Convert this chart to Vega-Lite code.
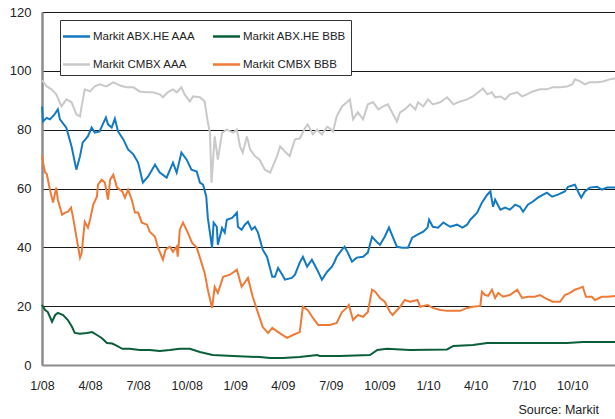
{
  "$schema": "https://vega.github.io/schema/vega-lite/v6.json",
  "width": 573,
  "height": 353,
  "autosize": "none",
  "padding": {"left": 42, "top": 12, "right": 0, "bottom": 54},
  "background": "white",
  "config": {
    "font": "Liberation Sans",
    "view": {"stroke": null},
    "axis": {"labelFont": "Liberation Sans", "labelColor": "#222222", "ticks": false}
  },
  "title": {"text": "Source: Markit", "orient": "bottom", "anchor": "end", "fontSize": 12.5, "fontWeight": "normal", "font": "Liberation Sans", "color": "#222222", "offset": 12, "dx": -20},
  "data": {"values": [
    {"s":"Markit ABX.HE AAA","d":"2008-01-01","v":87.9},
    {"s":"Markit ABX.HE AAA","d":"2008-01-03","v":82.8},
    {"s":"Markit ABX.HE AAA","d":"2008-01-10","v":84},
    {"s":"Markit ABX.HE AAA","d":"2008-01-16","v":83.5},
    {"s":"Markit ABX.HE AAA","d":"2008-01-24","v":85},
    {"s":"Markit ABX.HE AAA","d":"2008-01-31","v":86.9},
    {"s":"Markit ABX.HE AAA","d":"2008-02-04","v":83.5},
    {"s":"Markit ABX.HE AAA","d":"2008-02-16","v":80.7},
    {"s":"Markit ABX.HE AAA","d":"2008-02-26","v":74.3},
    {"s":"Markit ABX.HE AAA","d":"2008-03-06","v":66.4},
    {"s":"Markit ABX.HE AAA","d":"2008-03-13","v":71},
    {"s":"Markit ABX.HE AAA","d":"2008-03-18","v":75.6},
    {"s":"Markit ABX.HE AAA","d":"2008-03-28","v":77.8},
    {"s":"Markit ABX.HE AAA","d":"2008-04-04","v":80.7},
    {"s":"Markit ABX.HE AAA","d":"2008-04-10","v":79},
    {"s":"Markit ABX.HE AAA","d":"2008-04-19","v":79.4},
    {"s":"Markit ABX.HE AAA","d":"2008-04-25","v":81.8},
    {"s":"Markit ABX.HE AAA","d":"2008-05-01","v":84.1},
    {"s":"Markit ABX.HE AAA","d":"2008-05-05","v":81.8},
    {"s":"Markit ABX.HE AAA","d":"2008-05-12","v":80.7},
    {"s":"Markit ABX.HE AAA","d":"2008-05-18","v":83.7},
    {"s":"Markit ABX.HE AAA","d":"2008-05-24","v":79.4},
    {"s":"Markit ABX.HE AAA","d":"2008-06-03","v":76.7},
    {"s":"Markit ABX.HE AAA","d":"2008-06-12","v":73.3},
    {"s":"Markit ABX.HE AAA","d":"2008-06-22","v":71.6},
    {"s":"Markit ABX.HE AAA","d":"2008-07-01","v":68.8},
    {"s":"Markit ABX.HE AAA","d":"2008-07-10","v":62},
    {"s":"Markit ABX.HE AAA","d":"2008-07-20","v":64.1},
    {"s":"Markit ABX.HE AAA","d":"2008-08-02","v":68.1},
    {"s":"Markit ABX.HE AAA","d":"2008-08-11","v":65.4},
    {"s":"Markit ABX.HE AAA","d":"2008-08-24","v":63.7},
    {"s":"Markit ABX.HE AAA","d":"2008-09-05","v":68.8},
    {"s":"Markit ABX.HE AAA","d":"2008-09-12","v":65.4},
    {"s":"Markit ABX.HE AAA","d":"2008-09-21","v":72.2},
    {"s":"Markit ABX.HE AAA","d":"2008-10-01","v":69.8},
    {"s":"Markit ABX.HE AAA","d":"2008-10-10","v":66.4},
    {"s":"Markit ABX.HE AAA","d":"2008-10-20","v":65.8},
    {"s":"Markit ABX.HE AAA","d":"2008-10-26","v":62},
    {"s":"Markit ABX.HE AAA","d":"2008-11-01","v":61.3},
    {"s":"Markit ABX.HE AAA","d":"2008-11-07","v":57.3},
    {"s":"Markit ABX.HE AAA","d":"2008-11-10","v":50},
    {"s":"Markit ABX.HE AAA","d":"2008-11-18","v":39.9},
    {"s":"Markit ABX.HE AAA","d":"2008-11-21","v":48.4},
    {"s":"Markit ABX.HE AAA","d":"2008-11-27","v":47},
    {"s":"Markit ABX.HE AAA","d":"2008-11-29","v":40.9},
    {"s":"Markit ABX.HE AAA","d":"2008-12-07","v":46.6},
    {"s":"Markit ABX.HE AAA","d":"2008-12-12","v":45},
    {"s":"Markit ABX.HE AAA","d":"2008-12-16","v":49.4},
    {"s":"Markit ABX.HE AAA","d":"2008-12-26","v":50},
    {"s":"Markit ABX.HE AAA","d":"2009-01-04","v":51.8},
    {"s":"Markit ABX.HE AAA","d":"2009-01-06","v":47},
    {"s":"Markit ABX.HE AAA","d":"2009-01-13","v":46},
    {"s":"Markit ABX.HE AAA","d":"2009-01-19","v":47.7},
    {"s":"Markit ABX.HE AAA","d":"2009-01-25","v":48.7},
    {"s":"Markit ABX.HE AAA","d":"2009-02-01","v":46},
    {"s":"Markit ABX.HE AAA","d":"2009-02-07","v":47},
    {"s":"Markit ABX.HE AAA","d":"2009-02-13","v":45},
    {"s":"Markit ABX.HE AAA","d":"2009-02-22","v":39.2},
    {"s":"Markit ABX.HE AAA","d":"2009-03-02","v":36.8},
    {"s":"Markit ABX.HE AAA","d":"2009-03-12","v":30},
    {"s":"Markit ABX.HE AAA","d":"2009-03-17","v":30},
    {"s":"Markit ABX.HE AAA","d":"2009-03-23","v":33},
    {"s":"Markit ABX.HE AAA","d":"2009-03-31","v":30.7},
    {"s":"Markit ABX.HE AAA","d":"2009-04-05","v":29},
    {"s":"Markit ABX.HE AAA","d":"2009-04-18","v":29.6},
    {"s":"Markit ABX.HE AAA","d":"2009-04-24","v":30.7},
    {"s":"Markit ABX.HE AAA","d":"2009-05-03","v":34.8},
    {"s":"Markit ABX.HE AAA","d":"2009-05-09","v":36.8},
    {"s":"Markit ABX.HE AAA","d":"2009-05-17","v":33.4},
    {"s":"Markit ABX.HE AAA","d":"2009-05-26","v":35.8},
    {"s":"Markit ABX.HE AAA","d":"2009-06-05","v":32.4},
    {"s":"Markit ABX.HE AAA","d":"2009-06-14","v":29},
    {"s":"Markit ABX.HE AAA","d":"2009-06-24","v":31.7},
    {"s":"Markit ABX.HE AAA","d":"2009-07-03","v":33.4},
    {"s":"Markit ABX.HE AAA","d":"2009-07-08","v":35.1},
    {"s":"Markit ABX.HE AAA","d":"2009-07-12","v":36.8},
    {"s":"Markit ABX.HE AAA","d":"2009-07-22","v":39.2},
    {"s":"Markit ABX.HE AAA","d":"2009-07-27","v":40.2},
    {"s":"Markit ABX.HE AAA","d":"2009-08-02","v":38.2},
    {"s":"Markit ABX.HE AAA","d":"2009-08-10","v":35.1},
    {"s":"Markit ABX.HE AAA","d":"2009-08-19","v":36.5},
    {"s":"Markit ABX.HE AAA","d":"2009-08-31","v":36.8},
    {"s":"Markit ABX.HE AAA","d":"2009-09-09","v":38.2},
    {"s":"Markit ABX.HE AAA","d":"2009-09-17","v":43.6},
    {"s":"Markit ABX.HE AAA","d":"2009-09-27","v":41.6},
    {"s":"Markit ABX.HE AAA","d":"2009-10-02","v":40.9},
    {"s":"Markit ABX.HE AAA","d":"2009-10-11","v":43.6},
    {"s":"Markit ABX.HE AAA","d":"2009-10-19","v":46.7},
    {"s":"Markit ABX.HE AAA","d":"2009-10-26","v":43.6},
    {"s":"Markit ABX.HE AAA","d":"2009-11-03","v":40.2},
    {"s":"Markit ABX.HE AAA","d":"2009-11-13","v":39.9},
    {"s":"Markit ABX.HE AAA","d":"2009-11-24","v":39.9},
    {"s":"Markit ABX.HE AAA","d":"2009-12-02","v":43.3},
    {"s":"Markit ABX.HE AAA","d":"2009-12-12","v":44.3},
    {"s":"Markit ABX.HE AAA","d":"2009-12-23","v":45.3},
    {"s":"Markit ABX.HE AAA","d":"2009-12-31","v":46.7},
    {"s":"Markit ABX.HE AAA","d":"2010-01-03","v":49.4},
    {"s":"Markit ABX.HE AAA","d":"2010-01-10","v":47},
    {"s":"Markit ABX.HE AAA","d":"2010-01-20","v":46.7},
    {"s":"Markit ABX.HE AAA","d":"2010-01-30","v":48.4},
    {"s":"Markit ABX.HE AAA","d":"2010-02-12","v":47},
    {"s":"Markit ABX.HE AAA","d":"2010-02-25","v":47.7},
    {"s":"Markit ABX.HE AAA","d":"2010-03-07","v":46.7},
    {"s":"Markit ABX.HE AAA","d":"2010-03-16","v":47.7},
    {"s":"Markit ABX.HE AAA","d":"2010-03-22","v":49.4},
    {"s":"Markit ABX.HE AAA","d":"2010-04-04","v":51.8},
    {"s":"Markit ABX.HE AAA","d":"2010-04-13","v":55.2},
    {"s":"Markit ABX.HE AAA","d":"2010-04-23","v":57.9},
    {"s":"Markit ABX.HE AAA","d":"2010-04-29","v":59},
    {"s":"Markit ABX.HE AAA","d":"2010-05-04","v":53.8},
    {"s":"Markit ABX.HE AAA","d":"2010-05-08","v":56.2},
    {"s":"Markit ABX.HE AAA","d":"2010-05-18","v":52.8},
    {"s":"Markit ABX.HE AAA","d":"2010-05-27","v":53.5},
    {"s":"Markit ABX.HE AAA","d":"2010-06-05","v":52.8},
    {"s":"Markit ABX.HE AAA","d":"2010-06-15","v":54.5},
    {"s":"Markit ABX.HE AAA","d":"2010-06-24","v":53.8},
    {"s":"Markit ABX.HE AAA","d":"2010-06-30","v":52.1},
    {"s":"Markit ABX.HE AAA","d":"2010-07-09","v":54.5},
    {"s":"Markit ABX.HE AAA","d":"2010-07-18","v":55.5},
    {"s":"Markit ABX.HE AAA","d":"2010-07-28","v":56.9},
    {"s":"Markit ABX.HE AAA","d":"2010-08-07","v":57.9},
    {"s":"Markit ABX.HE AAA","d":"2010-08-14","v":58.6},
    {"s":"Markit ABX.HE AAA","d":"2010-08-24","v":57.2},
    {"s":"Markit ABX.HE AAA","d":"2010-09-04","v":57.9},
    {"s":"Markit ABX.HE AAA","d":"2010-09-17","v":59},
    {"s":"Markit ABX.HE AAA","d":"2010-09-23","v":60.6},
    {"s":"Markit ABX.HE AAA","d":"2010-10-06","v":61.3},
    {"s":"Markit ABX.HE AAA","d":"2010-10-12","v":59},
    {"s":"Markit ABX.HE AAA","d":"2010-10-18","v":56.9},
    {"s":"Markit ABX.HE AAA","d":"2010-10-25","v":59},
    {"s":"Markit ABX.HE AAA","d":"2010-11-03","v":60.3},
    {"s":"Markit ABX.HE AAA","d":"2010-11-17","v":60.6},
    {"s":"Markit ABX.HE AAA","d":"2010-11-26","v":59.6},
    {"s":"Markit ABX.HE AAA","d":"2010-12-06","v":60.3},
    {"s":"Markit ABX.HE AAA","d":"2010-12-21","v":60.3},

    {"s":"Markit ABX.HE BBB","d":"2008-01-01","v":20.4},
    {"s":"Markit ABX.HE BBB","d":"2008-01-07","v":18.7},
    {"s":"Markit ABX.HE BBB","d":"2008-01-12","v":18},
    {"s":"Markit ABX.HE BBB","d":"2008-01-20","v":14.7},
    {"s":"Markit ABX.HE BBB","d":"2008-01-26","v":17},
    {"s":"Markit ABX.HE BBB","d":"2008-01-31","v":17.7},
    {"s":"Markit ABX.HE BBB","d":"2008-02-10","v":17},
    {"s":"Markit ABX.HE BBB","d":"2008-02-19","v":15.3},
    {"s":"Markit ABX.HE BBB","d":"2008-02-27","v":12.9},
    {"s":"Markit ABX.HE BBB","d":"2008-03-03","v":10.9},
    {"s":"Markit ABX.HE BBB","d":"2008-03-13","v":10.6},
    {"s":"Markit ABX.HE BBB","d":"2008-03-26","v":10.9},
    {"s":"Markit ABX.HE BBB","d":"2008-04-05","v":11.2},
    {"s":"Markit ABX.HE BBB","d":"2008-04-14","v":10.2},
    {"s":"Markit ABX.HE BBB","d":"2008-04-23","v":9.2},
    {"s":"Markit ABX.HE BBB","d":"2008-05-03","v":7.5},
    {"s":"Markit ABX.HE BBB","d":"2008-05-13","v":7.3},
    {"s":"Markit ABX.HE BBB","d":"2008-05-22","v":6.5},
    {"s":"Markit ABX.HE BBB","d":"2008-06-01","v":5.5},
    {"s":"Markit ABX.HE BBB","d":"2008-06-15","v":5.5},
    {"s":"Markit ABX.HE BBB","d":"2008-07-04","v":5.1},
    {"s":"Markit ABX.HE BBB","d":"2008-07-23","v":5.1},
    {"s":"Markit ABX.HE BBB","d":"2008-08-11","v":4.8},
    {"s":"Markit ABX.HE BBB","d":"2008-08-30","v":5.1},
    {"s":"Markit ABX.HE BBB","d":"2008-09-18","v":5.5},
    {"s":"Markit ABX.HE BBB","d":"2008-10-07","v":5.5},
    {"s":"Markit ABX.HE BBB","d":"2008-10-26","v":4.4},
    {"s":"Markit ABX.HE BBB","d":"2008-11-19","v":3.4},
    {"s":"Markit ABX.HE BBB","d":"2008-12-28","v":3.1},
    {"s":"Markit ABX.HE BBB","d":"2009-02-16","v":2.7},
    {"s":"Markit ABX.HE BBB","d":"2009-03-08","v":2.4},
    {"s":"Markit ABX.HE BBB","d":"2009-04-01","v":2.4},
    {"s":"Markit ABX.HE BBB","d":"2009-05-03","v":2.7},
    {"s":"Markit ABX.HE BBB","d":"2009-06-05","v":3.4},
    {"s":"Markit ABX.HE BBB","d":"2009-06-10","v":3.1},
    {"s":"Markit ABX.HE BBB","d":"2009-07-18","v":3.1},
    {"s":"Markit ABX.HE BBB","d":"2009-09-13","v":3.4},
    {"s":"Markit ABX.HE BBB","d":"2009-09-27","v":5.1},
    {"s":"Markit ABX.HE BBB","d":"2009-10-15","v":5.5},
    {"s":"Markit ABX.HE BBB","d":"2009-11-28","v":5.1},
    {"s":"Markit ABX.HE BBB","d":"2010-02-06","v":5.3},
    {"s":"Markit ABX.HE BBB","d":"2010-02-18","v":6.5},
    {"s":"Markit ABX.HE BBB","d":"2010-03-27","v":6.8},
    {"s":"Markit ABX.HE BBB","d":"2010-04-23","v":7.5},
    {"s":"Markit ABX.HE BBB","d":"2010-06-11","v":7.5},
    {"s":"Markit ABX.HE BBB","d":"2010-07-18","v":7.5},
    {"s":"Markit ABX.HE BBB","d":"2010-09-21","v":7.5},
    {"s":"Markit ABX.HE BBB","d":"2010-10-21","v":7.8},
    {"s":"Markit ABX.HE BBB","d":"2010-12-21","v":7.8},

    {"s":"Markit CMBX AAA","d":"2008-01-01","v":96.8},
    {"s":"Markit CMBX AAA","d":"2008-01-10","v":94.7},
    {"s":"Markit CMBX AAA","d":"2008-01-19","v":93.7},
    {"s":"Markit CMBX AAA","d":"2008-01-28","v":92},
    {"s":"Markit CMBX AAA","d":"2008-02-07","v":87.9},
    {"s":"Markit CMBX AAA","d":"2008-02-16","v":90.3},
    {"s":"Markit CMBX AAA","d":"2008-02-26","v":89.3},
    {"s":"Markit CMBX AAA","d":"2008-03-06","v":85.2},
    {"s":"Markit CMBX AAA","d":"2008-03-13","v":84.5},
    {"s":"Markit CMBX AAA","d":"2008-03-16","v":87.9},
    {"s":"Markit CMBX AAA","d":"2008-03-22","v":93.7},
    {"s":"Markit CMBX AAA","d":"2008-04-01","v":93},
    {"s":"Markit CMBX AAA","d":"2008-04-10","v":94.7},
    {"s":"Markit CMBX AAA","d":"2008-04-19","v":95.4},
    {"s":"Markit CMBX AAA","d":"2008-05-02","v":94.7},
    {"s":"Markit CMBX AAA","d":"2008-05-15","v":96.1},
    {"s":"Markit CMBX AAA","d":"2008-05-28","v":95},
    {"s":"Markit CMBX AAA","d":"2008-06-09","v":94.4},
    {"s":"Markit CMBX AAA","d":"2008-06-22","v":94.4},
    {"s":"Markit CMBX AAA","d":"2008-07-04","v":93},
    {"s":"Markit CMBX AAA","d":"2008-07-17","v":92.7},
    {"s":"Markit CMBX AAA","d":"2008-07-29","v":92.7},
    {"s":"Markit CMBX AAA","d":"2008-08-11","v":92},
    {"s":"Markit CMBX AAA","d":"2008-08-17","v":91},
    {"s":"Markit CMBX AAA","d":"2008-08-26","v":92.7},
    {"s":"Markit CMBX AAA","d":"2008-09-05","v":93.7},
    {"s":"Markit CMBX AAA","d":"2008-09-12","v":92.7},
    {"s":"Markit CMBX AAA","d":"2008-09-21","v":94.4},
    {"s":"Markit CMBX AAA","d":"2008-09-27","v":92},
    {"s":"Markit CMBX AAA","d":"2008-10-07","v":89.6},
    {"s":"Markit CMBX AAA","d":"2008-10-13","v":91.3},
    {"s":"Markit CMBX AAA","d":"2008-10-26","v":91},
    {"s":"Markit CMBX AAA","d":"2008-11-04","v":89.6},
    {"s":"Markit CMBX AAA","d":"2008-11-10","v":82.5},
    {"s":"Markit CMBX AAA","d":"2008-11-14","v":79},
    {"s":"Markit CMBX AAA","d":"2008-11-17","v":62},
    {"s":"Markit CMBX AAA","d":"2008-11-20","v":69.8},
    {"s":"Markit CMBX AAA","d":"2008-11-23","v":77.7},
    {"s":"Markit CMBX AAA","d":"2008-11-29","v":69.8},
    {"s":"Markit CMBX AAA","d":"2008-12-07","v":79},
    {"s":"Markit CMBX AAA","d":"2008-12-16","v":80},
    {"s":"Markit CMBX AAA","d":"2008-12-28","v":79},
    {"s":"Markit CMBX AAA","d":"2009-01-04","v":80},
    {"s":"Markit CMBX AAA","d":"2009-01-10","v":74.3},
    {"s":"Markit CMBX AAA","d":"2009-01-15","v":72.2},
    {"s":"Markit CMBX AAA","d":"2009-01-23","v":77.7},
    {"s":"Markit CMBX AAA","d":"2009-01-29","v":73.3},
    {"s":"Markit CMBX AAA","d":"2009-02-07","v":71},
    {"s":"Markit CMBX AAA","d":"2009-02-16","v":69.8},
    {"s":"Markit CMBX AAA","d":"2009-02-26","v":66.4},
    {"s":"Markit CMBX AAA","d":"2009-03-08","v":65.4},
    {"s":"Markit CMBX AAA","d":"2009-03-13","v":67.5},
    {"s":"Markit CMBX AAA","d":"2009-03-21","v":71},
    {"s":"Markit CMBX AAA","d":"2009-03-27","v":74.3},
    {"s":"Markit CMBX AAA","d":"2009-04-05","v":72.6},
    {"s":"Markit CMBX AAA","d":"2009-04-14","v":71},
    {"s":"Markit CMBX AAA","d":"2009-04-24","v":76.7},
    {"s":"Markit CMBX AAA","d":"2009-05-03","v":77},
    {"s":"Markit CMBX AAA","d":"2009-05-13","v":80.5},
    {"s":"Markit CMBX AAA","d":"2009-05-18","v":81.8},
    {"s":"Markit CMBX AAA","d":"2009-05-28","v":78.4},
    {"s":"Markit CMBX AAA","d":"2009-06-05","v":80},
    {"s":"Markit CMBX AAA","d":"2009-06-14","v":78.4},
    {"s":"Markit CMBX AAA","d":"2009-06-24","v":81},
    {"s":"Markit CMBX AAA","d":"2009-06-29","v":80.5},
    {"s":"Markit CMBX AAA","d":"2009-07-05","v":79.4},
    {"s":"Markit CMBX AAA","d":"2009-07-12","v":84.5},
    {"s":"Markit CMBX AAA","d":"2009-07-22","v":87.9},
    {"s":"Markit CMBX AAA","d":"2009-08-02","v":89.6},
    {"s":"Markit CMBX AAA","d":"2009-08-06","v":90.3},
    {"s":"Markit CMBX AAA","d":"2009-08-12","v":83.5},
    {"s":"Markit CMBX AAA","d":"2009-08-21","v":85.9},
    {"s":"Markit CMBX AAA","d":"2009-08-31","v":83.5},
    {"s":"Markit CMBX AAA","d":"2009-09-09","v":88.6},
    {"s":"Markit CMBX AAA","d":"2009-09-19","v":89.3},
    {"s":"Markit CMBX AAA","d":"2009-09-29","v":86.9},
    {"s":"Markit CMBX AAA","d":"2009-10-08","v":87.9},
    {"s":"Markit CMBX AAA","d":"2009-10-17","v":88.6},
    {"s":"Markit CMBX AAA","d":"2009-10-24","v":86.2},
    {"s":"Markit CMBX AAA","d":"2009-11-03","v":82.8},
    {"s":"Markit CMBX AAA","d":"2009-11-09","v":85.9},
    {"s":"Markit CMBX AAA","d":"2009-11-18","v":86.9},
    {"s":"Markit CMBX AAA","d":"2009-11-28","v":88.6},
    {"s":"Markit CMBX AAA","d":"2009-12-08","v":86.9},
    {"s":"Markit CMBX AAA","d":"2009-12-13","v":89.3},
    {"s":"Markit CMBX AAA","d":"2009-12-23","v":87.9},
    {"s":"Markit CMBX AAA","d":"2010-01-01","v":90.3},
    {"s":"Markit CMBX AAA","d":"2010-01-10","v":88.6},
    {"s":"Markit CMBX AAA","d":"2010-01-24","v":89.3},
    {"s":"Markit CMBX AAA","d":"2010-02-06","v":91},
    {"s":"Markit CMBX AAA","d":"2010-02-18","v":88.6},
    {"s":"Markit CMBX AAA","d":"2010-03-03","v":89.6},
    {"s":"Markit CMBX AAA","d":"2010-03-16","v":90.3},
    {"s":"Markit CMBX AAA","d":"2010-03-27","v":91.3},
    {"s":"Markit CMBX AAA","d":"2010-04-06","v":92.7},
    {"s":"Markit CMBX AAA","d":"2010-04-15","v":94},
    {"s":"Markit CMBX AAA","d":"2010-04-23","v":92},
    {"s":"Markit CMBX AAA","d":"2010-05-02","v":92.7},
    {"s":"Markit CMBX AAA","d":"2010-05-08","v":91},
    {"s":"Markit CMBX AAA","d":"2010-05-18","v":91.3},
    {"s":"Markit CMBX AAA","d":"2010-05-27","v":90.3},
    {"s":"Markit CMBX AAA","d":"2010-06-05","v":92},
    {"s":"Markit CMBX AAA","d":"2010-06-19","v":92.7},
    {"s":"Markit CMBX AAA","d":"2010-06-28","v":91.3},
    {"s":"Markit CMBX AAA","d":"2010-07-07","v":92},
    {"s":"Markit CMBX AAA","d":"2010-07-18","v":93},
    {"s":"Markit CMBX AAA","d":"2010-08-01","v":93.7},
    {"s":"Markit CMBX AAA","d":"2010-08-14","v":93.7},
    {"s":"Markit CMBX AAA","d":"2010-08-25","v":94.4},
    {"s":"Markit CMBX AAA","d":"2010-09-08","v":94.4},
    {"s":"Markit CMBX AAA","d":"2010-09-21","v":94.7},
    {"s":"Markit CMBX AAA","d":"2010-10-01","v":95.4},
    {"s":"Markit CMBX AAA","d":"2010-10-06","v":97.1},
    {"s":"Markit CMBX AAA","d":"2010-10-16","v":96.4},
    {"s":"Markit CMBX AAA","d":"2010-10-25","v":95.4},
    {"s":"Markit CMBX AAA","d":"2010-11-03","v":96.1},
    {"s":"Markit CMBX AAA","d":"2010-11-17","v":96.1},
    {"s":"Markit CMBX AAA","d":"2010-11-28","v":96.4},
    {"s":"Markit CMBX AAA","d":"2010-12-11","v":97.1},
    {"s":"Markit CMBX AAA","d":"2010-12-21","v":97.4},

    {"s":"Markit CMBX BBB","d":"2008-01-01","v":71.5},
    {"s":"Markit CMBX BBB","d":"2008-01-03","v":68.8},
    {"s":"Markit CMBX BBB","d":"2008-01-07","v":65.4},
    {"s":"Markit CMBX BBB","d":"2008-01-10","v":65},
    {"s":"Markit CMBX BBB","d":"2008-01-16","v":59.6},
    {"s":"Markit CMBX BBB","d":"2008-01-22","v":55.2},
    {"s":"Markit CMBX BBB","d":"2008-01-28","v":60.3},
    {"s":"Markit CMBX BBB","d":"2008-01-31","v":56.2},
    {"s":"Markit CMBX BBB","d":"2008-02-08","v":51.1},
    {"s":"Markit CMBX BBB","d":"2008-02-14","v":51.8},
    {"s":"Markit CMBX BBB","d":"2008-02-19","v":52.1},
    {"s":"Markit CMBX BBB","d":"2008-02-25","v":53.5},
    {"s":"Markit CMBX BBB","d":"2008-02-29","v":50},
    {"s":"Markit CMBX BBB","d":"2008-03-07","v":42.6},
    {"s":"Markit CMBX BBB","d":"2008-03-13","v":36.5},
    {"s":"Markit CMBX BBB","d":"2008-03-16","v":38},
    {"s":"Markit CMBX BBB","d":"2008-03-22","v":48.7},
    {"s":"Markit CMBX BBB","d":"2008-03-28","v":46.7},
    {"s":"Markit CMBX BBB","d":"2008-04-01","v":49.4},
    {"s":"Markit CMBX BBB","d":"2008-04-07","v":54.5},
    {"s":"Markit CMBX BBB","d":"2008-04-14","v":57.2},
    {"s":"Markit CMBX BBB","d":"2008-04-16","v":61.3},
    {"s":"Markit CMBX BBB","d":"2008-04-23","v":63},
    {"s":"Markit CMBX BBB","d":"2008-04-29","v":62},
    {"s":"Markit CMBX BBB","d":"2008-05-05","v":56.2},
    {"s":"Markit CMBX BBB","d":"2008-05-09","v":63},
    {"s":"Markit CMBX BBB","d":"2008-05-15","v":64.7},
    {"s":"Markit CMBX BBB","d":"2008-05-22","v":60.3},
    {"s":"Markit CMBX BBB","d":"2008-06-01","v":59},
    {"s":"Markit CMBX BBB","d":"2008-06-06","v":56.9},
    {"s":"Markit CMBX BBB","d":"2008-06-12","v":59.6},
    {"s":"Markit CMBX BBB","d":"2008-06-19","v":56.2},
    {"s":"Markit CMBX BBB","d":"2008-06-25","v":51.8},
    {"s":"Markit CMBX BBB","d":"2008-07-01","v":51.8},
    {"s":"Markit CMBX BBB","d":"2008-07-08","v":48.4},
    {"s":"Markit CMBX BBB","d":"2008-07-18","v":47.7},
    {"s":"Markit CMBX BBB","d":"2008-07-23","v":45.3},
    {"s":"Markit CMBX BBB","d":"2008-08-02","v":43.6},
    {"s":"Markit CMBX BBB","d":"2008-08-07","v":40.2},
    {"s":"Markit CMBX BBB","d":"2008-08-17","v":35.8},
    {"s":"Markit CMBX BBB","d":"2008-08-22","v":39.2},
    {"s":"Markit CMBX BBB","d":"2008-08-30","v":40.2},
    {"s":"Markit CMBX BBB","d":"2008-09-05","v":38.5},
    {"s":"Markit CMBX BBB","d":"2008-09-12","v":40.2},
    {"s":"Markit CMBX BBB","d":"2008-09-14","v":36.8},
    {"s":"Markit CMBX BBB","d":"2008-09-18","v":46},
    {"s":"Markit CMBX BBB","d":"2008-09-24","v":48.4},
    {"s":"Markit CMBX BBB","d":"2008-10-03","v":45},
    {"s":"Markit CMBX BBB","d":"2008-10-11","v":41.6},
    {"s":"Markit CMBX BBB","d":"2008-10-20","v":39.9},
    {"s":"Markit CMBX BBB","d":"2008-10-26","v":36.5},
    {"s":"Markit CMBX BBB","d":"2008-11-04","v":31.3},
    {"s":"Markit CMBX BBB","d":"2008-11-10","v":25.6},
    {"s":"Markit CMBX BBB","d":"2008-11-18","v":19.4},
    {"s":"Markit CMBX BBB","d":"2008-11-23","v":26.6},
    {"s":"Markit CMBX BBB","d":"2008-11-29","v":24.5},
    {"s":"Markit CMBX BBB","d":"2008-12-09","v":30},
    {"s":"Markit CMBX BBB","d":"2008-12-22","v":30.7},
    {"s":"Markit CMBX BBB","d":"2009-01-04","v":32.4},
    {"s":"Markit CMBX BBB","d":"2009-01-13","v":26.6},
    {"s":"Markit CMBX BBB","d":"2009-01-25","v":29.6},
    {"s":"Markit CMBX BBB","d":"2009-02-03","v":23.2},
    {"s":"Markit CMBX BBB","d":"2009-02-13","v":17.7},
    {"s":"Markit CMBX BBB","d":"2009-02-22","v":12.9},
    {"s":"Markit CMBX BBB","d":"2009-03-04","v":10.9},
    {"s":"Markit CMBX BBB","d":"2009-03-12","v":12.6},
    {"s":"Markit CMBX BBB","d":"2009-03-23","v":11.2},
    {"s":"Markit CMBX BBB","d":"2009-04-09","v":9.2},
    {"s":"Markit CMBX BBB","d":"2009-04-20","v":10.2},
    {"s":"Markit CMBX BBB","d":"2009-05-03","v":11.2},
    {"s":"Markit CMBX BBB","d":"2009-05-09","v":19.8},
    {"s":"Markit CMBX BBB","d":"2009-05-18","v":18.7},
    {"s":"Markit CMBX BBB","d":"2009-05-28","v":16},
    {"s":"Markit CMBX BBB","d":"2009-06-07","v":13.6},
    {"s":"Markit CMBX BBB","d":"2009-06-29","v":13.6},
    {"s":"Markit CMBX BBB","d":"2009-07-12","v":14.3},
    {"s":"Markit CMBX BBB","d":"2009-07-22","v":18},
    {"s":"Markit CMBX BBB","d":"2009-07-31","v":19.4},
    {"s":"Markit CMBX BBB","d":"2009-08-04","v":20.4},
    {"s":"Markit CMBX BBB","d":"2009-08-12","v":15.3},
    {"s":"Markit CMBX BBB","d":"2009-08-21","v":17},
    {"s":"Markit CMBX BBB","d":"2009-08-31","v":16.4},
    {"s":"Markit CMBX BBB","d":"2009-09-09","v":18},
    {"s":"Markit CMBX BBB","d":"2009-09-17","v":25.6},
    {"s":"Markit CMBX BBB","d":"2009-09-23","v":24.9},
    {"s":"Markit CMBX BBB","d":"2009-10-02","v":22.8},
    {"s":"Markit CMBX BBB","d":"2009-10-11","v":21.5},
    {"s":"Markit CMBX BBB","d":"2009-10-21","v":18},
    {"s":"Markit CMBX BBB","d":"2009-10-26","v":17},
    {"s":"Markit CMBX BBB","d":"2009-11-09","v":19.8},
    {"s":"Markit CMBX BBB","d":"2009-11-18","v":22.1},
    {"s":"Markit CMBX BBB","d":"2009-11-28","v":21.5},
    {"s":"Markit CMBX BBB","d":"2009-12-12","v":22.1},
    {"s":"Markit CMBX BBB","d":"2009-12-17","v":19.8},
    {"s":"Markit CMBX BBB","d":"2009-12-31","v":20.4},
    {"s":"Markit CMBX BBB","d":"2010-01-10","v":19.4},
    {"s":"Markit CMBX BBB","d":"2010-01-24","v":18.7},
    {"s":"Markit CMBX BBB","d":"2010-02-06","v":18.4},
    {"s":"Markit CMBX BBB","d":"2010-03-03","v":18.4},
    {"s":"Markit CMBX BBB","d":"2010-03-16","v":19.4},
    {"s":"Markit CMBX BBB","d":"2010-03-27","v":19.8},
    {"s":"Markit CMBX BBB","d":"2010-04-10","v":20.1},
    {"s":"Markit CMBX BBB","d":"2010-04-13","v":24.9},
    {"s":"Markit CMBX BBB","d":"2010-04-19","v":23.8},
    {"s":"Markit CMBX BBB","d":"2010-04-25","v":23.5},
    {"s":"Markit CMBX BBB","d":"2010-05-02","v":25.6},
    {"s":"Markit CMBX BBB","d":"2010-05-08","v":22.8},
    {"s":"Markit CMBX BBB","d":"2010-05-14","v":24.5},
    {"s":"Markit CMBX BBB","d":"2010-05-23","v":23.2},
    {"s":"Markit CMBX BBB","d":"2010-06-05","v":23.8},
    {"s":"Markit CMBX BBB","d":"2010-06-19","v":25.6},
    {"s":"Markit CMBX BBB","d":"2010-06-28","v":22.8},
    {"s":"Markit CMBX BBB","d":"2010-07-09","v":23.2},
    {"s":"Markit CMBX BBB","d":"2010-07-22","v":23.2},
    {"s":"Markit CMBX BBB","d":"2010-08-01","v":23.8},
    {"s":"Markit CMBX BBB","d":"2010-08-10","v":22.8},
    {"s":"Markit CMBX BBB","d":"2010-08-25","v":21.5},
    {"s":"Markit CMBX BBB","d":"2010-09-08","v":21.5},
    {"s":"Markit CMBX BBB","d":"2010-09-17","v":23.8},
    {"s":"Markit CMBX BBB","d":"2010-09-27","v":24.5},
    {"s":"Markit CMBX BBB","d":"2010-10-06","v":25.6},
    {"s":"Markit CMBX BBB","d":"2010-10-16","v":26.2},
    {"s":"Markit CMBX BBB","d":"2010-10-21","v":26.6},
    {"s":"Markit CMBX BBB","d":"2010-10-27","v":23.2},
    {"s":"Markit CMBX BBB","d":"2010-11-07","v":23.2},
    {"s":"Markit CMBX BBB","d":"2010-11-13","v":22.1},
    {"s":"Markit CMBX BBB","d":"2010-11-26","v":23.2},
    {"s":"Markit CMBX BBB","d":"2010-12-08","v":23.2},
    {"s":"Markit CMBX BBB","d":"2010-12-21","v":23.5}
  ]},
  "mark": {"type": "line", "strokeWidth": 2, "interpolate": "linear"},
  "encoding": {
    "x": {
      "field": "d", "type": "temporal", "title": null,
      "scale": {"domain": [{"year": 2008, "month": 1, "date": 1}, {"year": 2010, "month": 12, "date": 21}], "nice": false},
      "axis": {"format": "%-m/%y", "tickCount": {"interval": "month", "step": 3}, "grid": false, "domainColor": "#8c8c8c", "domainWidth": 2, "labelFontSize": 12.5, "labelPadding": 14, "labelFlush": false, "labelOverlap": false}
    },
    "y": {
      "field": "v", "type": "quantitative", "title": null,
      "scale": {"domain": [0, 120], "nice": false},
      "axis": {"values": [0, 20, 40, 60, 80, 100, 120], "grid": true, "gridColor": "#1a1a1a", "gridWidth": 1, "gridOpacity": 1, "domainColor": "#8c8c8c", "domainWidth": 2.5, "labelFontSize": 13, "labelPadding": 11}
    },
    "color": {
      "field": "s", "type": "nominal",
      "scale": {"domain": ["Markit ABX.HE AAA", "Markit ABX.HE BBB", "Markit CMBX AAA", "Markit CMBX BBB"], "range": ["#1279C2", "#0B5E3A", "#C9C9C9", "#EE7A37"]},
      "legend": {"title": null, "orient": "none", "legendX": 18, "legendY": 8, "columns": 2, "direction": "horizontal", "symbolType": "M-1.35,0H1.35", "symbolSize": 400, "symbolStrokeWidth": 2.5, "labelFontSize": 11.5, "labelFont": "Liberation Sans", "labelColor": "#222222", "labelOffset": 5, "labelLimit": 300, "columnPadding": 12, "rowPadding": 11, "padding": 5, "strokeColor": "#333333", "fillColor": "white"}
    }
  }
}
